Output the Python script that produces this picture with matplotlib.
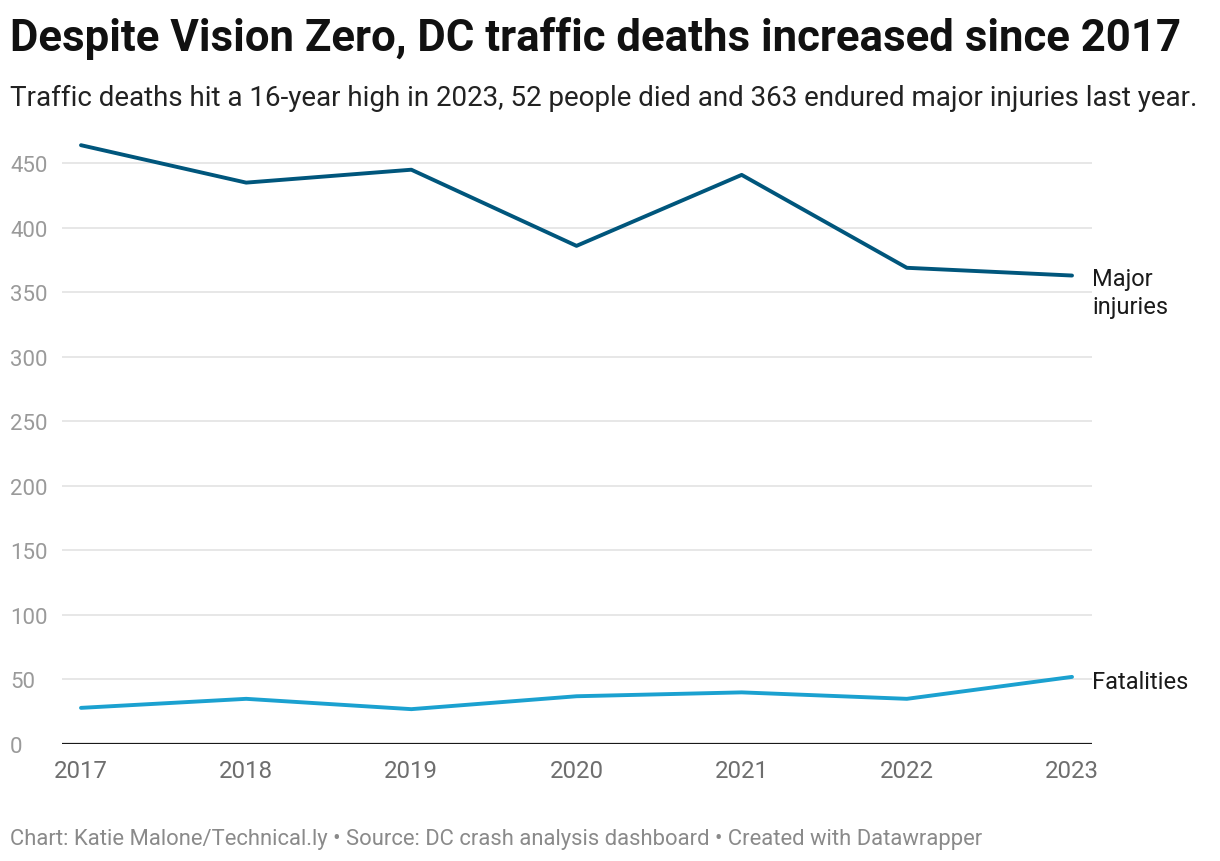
import matplotlib.pyplot as plt

years = [2017, 2018, 2019, 2020, 2021, 2022, 2023]
major_injuries = [464, 435, 445, 386, 441, 369, 363]
fatalities = [28, 35, 27, 37, 40, 35, 52]
yticks = [0, 50, 100, 150, 200, 250, 300, 350, 400, 450]

plt.rcParams['font.family'] = ['Roboto', 'DejaVu Sans']

W, H = 1220, 862
fig = plt.figure(figsize=(W / 100, H / 100), dpi=100)

# axes box in pixels: left 62, right 1092, bottom (y=0) 745
ax = fig.add_axes([62 / W, 1 - 745 / H, (1092 - 62) / W, (745 - 132) / H])

c_major = '#00567c'
c_fat = '#1ba1d0'

ax.plot(years, major_injuries, color=c_major, lw=2.8, solid_capstyle='round', zorder=3)
ax.plot(years, fatalities, color=c_fat, lw=2.8, solid_capstyle='round', zorder=3)

ax.set_xlim(2016.885, 2023.121)
ax.set_ylim(0, 475)

ax.set_yticks(yticks)
ax.set_yticklabels([str(v) for v in yticks], ha='left')
ax.tick_params(axis='y', length=0, pad=37.4, labelsize=16, labelcolor='#9a9a9a')
ax.set_xticks(years)
ax.set_xticklabels([str(y) for y in years])
ax.tick_params(axis='x', length=0, pad=10.5, labelsize=17.3, labelcolor='#6e6e6e')

for v in yticks[1:]:
    ax.axhline(v, color='#e3e3e3', lw=1.2, zorder=1)
ax.axhline(0, color='#1a1a1a', lw=1.6, zorder=2)

for s in ax.spines.values():
    s.set_visible(False)

ax.annotate('Major\ninjuries', xy=(years[-1], major_injuries[-1]), xytext=(14.5, 6),
            textcoords='offset points', ha='left', va='top', fontsize=17,
            color='#1a1a1a', linespacing=1.28, annotation_clip=False)
ax.annotate('Fatalities', xy=(years[-1], fatalities[-1]), xytext=(14.5, -3),
            textcoords='offset points', ha='left', va='center', fontsize=17,
            color='#1a1a1a', annotation_clip=False)

fig.text(10 / W, 1 - 51 / H, 'Despite Vision Zero, DC traffic deaths increased since 2017',
         fontsize=31.5, fontweight='bold', color='#111111', va='baseline', ha='left')
fig.text(10 / W, 1 - 106 / H,
         'Traffic deaths hit a 16-year high in 2023, 52 people died and 363 endured major injuries last year.',
         fontsize=20, color='#222222', va='baseline', ha='left')
fig.text(10 / W, 1 - 845 / H,
         'Chart: Katie Malone/Technical.ly \u2022 Source: DC crash analysis dashboard \u2022 Created with Datawrapper',
         fontsize=15.8, color='#8a8a8a', va='baseline', ha='left')

fig.savefig('out.png', dpi=100, facecolor='white')
